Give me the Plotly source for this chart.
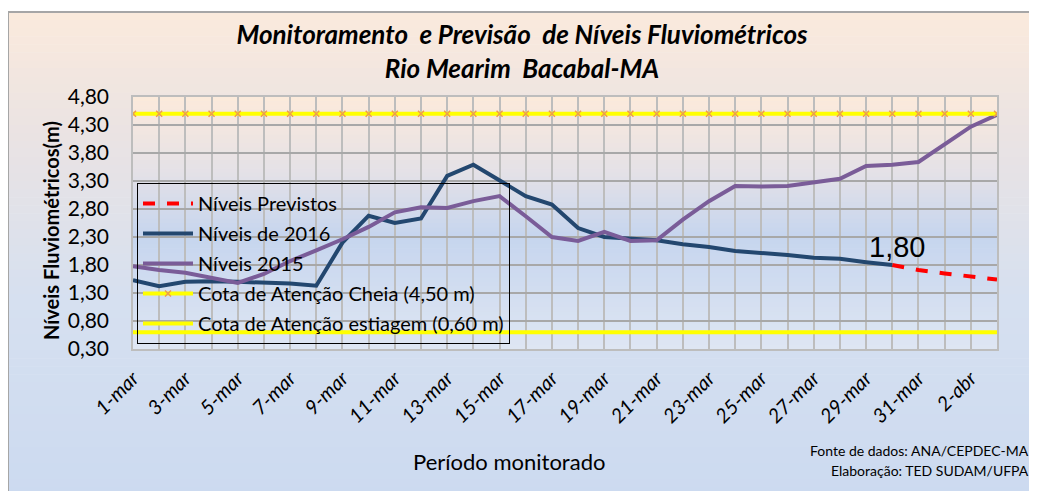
import plotly.graph_objects as go

dias = [
    "1-mar", "2-mar", "3-mar", "4-mar", "5-mar", "6-mar", "7-mar", "8-mar",
    "9-mar", "10-mar", "11-mar", "12-mar", "13-mar", "14-mar", "15-mar",
    "16-mar", "17-mar", "18-mar", "19-mar", "20-mar", "21-mar", "22-mar",
    "23-mar", "24-mar", "25-mar", "26-mar", "27-mar", "28-mar", "29-mar",
    "30-mar", "31-mar", "1-abr", "2-abr", "3-abr",
]

niveis_2016 = [
    1.53, 1.42, 1.50, 1.51, 1.50, 1.49, 1.47, 1.43, 2.20, 2.68, 2.55, 2.63,
    3.39, 3.59, 3.30, 3.03, 2.88, 2.46, 2.30, 2.27, 2.24, 2.17, 2.12, 2.05,
    2.02, 1.98, 1.93, 1.91, 1.85, 1.80,
]

niveis_2015 = [
    1.78, 1.71, 1.66, 1.57, 1.48, 1.64, 1.87, 2.06, 2.26, 2.48, 2.74, 2.83,
    2.82, 2.94, 3.03, 2.67, 2.30, 2.23, 2.39, 2.23, 2.24, 2.61, 2.94, 3.21,
    3.20, 3.21, 3.28, 3.34, 3.57, 3.59, 3.64, 3.95, 4.27, 4.48,
]

dias_previstos = ["30-mar", "31-mar", "1-abr", "2-abr", "3-abr"]
niveis_previstos = [1.80, 1.71, 1.65, 1.59, 1.54]

cota_cheia = 4.50
cota_estiagem = 0.60

y_ticks = [0.30, 0.80, 1.30, 1.80, 2.30, 2.80, 3.30, 3.80, 4.30, 4.80]

FONT = "Lato"
OFF = 8  # page body margin
W, H = 1037 - OFF, 491 - OFF
# plot area, in screen pixels
PL, PR, PT, PB = 133, 997, 97, 349


def px_x(x):
    return (x - PL) / (PR - PL)


def px_y(y):
    return (PB - y) / (PB - PT)


def hex_rgb(c):
    return tuple(int(c[i:i + 2], 16) for i in (1, 3, 5))


def grad_color(stops, t):
    for (t0, c0), (t1, c1) in zip(stops, stops[1:]):
        if t0 <= t <= t1:
            f = (t - t0) / (t1 - t0) if t1 > t0 else 0
            a, b = hex_rgb(c0), hex_rgb(c1)
            r = [round(a[k] + (b[k] - a[k]) * f) for k in range(3)]
            return f"rgb({r[0]},{r[1]},{r[2]})"
    return stops[-1][1]


def gradient(x0, x1, y0, y1, stops, n=60):
    # vertical gradient from screen y0 (top) to y1 (bottom)
    shapes = []
    h = (y1 - y0) / n
    for k in range(n):
        top = y0 + k * h
        shapes.append(dict(
            type="rect", xref="paper", yref="paper", layer="below",
            x0=px_x(x0), x1=px_x(x1), y0=px_y(top + h + 0.6), y1=px_y(top),
            fillcolor=grad_color(stops, (k + 0.5) / n), line_width=0,
        ))
    return shapes


outer_stops = [(0, "#FBEADC"), (0.25, "#EAE3E3"), (0.6, "#D6E0F0"), (1, "#CCDAF0")]
plot_stops = [(0, "#FCEADB"), (0.3, "#E4E1E7"), (0.55, "#C6D5EE"), (1, "#DEE6F3")]

shapes = gradient(8, 1040, 12, 495, outer_stops) + gradient(PL, PR, PT, PB, plot_stops)
shapes.append(dict(
    type="rect", xref="paper", yref="paper", layer="below",
    x0=px_x(8), x1=px_x(1050), y0=px_y(500), y1=px_y(12),
    line=dict(color="#A6A6A6", width=2), fillcolor="rgba(0,0,0,0)",
))

fig = go.Figure()

fig.add_trace(go.Scatter(
    x=dias_previstos, y=niveis_previstos, name="Níveis Previstos", mode="lines",
    line=dict(color="#FF0000", width=4, dash="dash"), legendgroup="a",
))
fig.add_trace(go.Scatter(
    x=dias[:len(niveis_2016)], y=niveis_2016, name="Níveis de 2016", mode="lines",
    line=dict(color="#23476F", width=4), legendgroup="b",
))
fig.add_trace(go.Scatter(
    x=dias, y=niveis_2015, name="Níveis 2015", mode="lines",
    line=dict(color="#7A5C98", width=4), legendgroup="c",
))
fig.add_trace(go.Scatter(
    x=dias, y=[cota_cheia] * len(dias), name="Cota de Atenção Cheia (4,50 m)",
    mode="lines+markers", line=dict(color="#FFFF00", width=4),
    marker=dict(symbol="x-thin-open", size=6, color="#EE9A50",
                line=dict(color="#EE9A50", width=1.5)),
    legendgroup="d",
))
fig.add_trace(go.Scatter(
    x=dias, y=[cota_estiagem] * len(dias), name="Cota de Atenção estiagem (0,60 m)",
    mode="lines", line=dict(color="#FFFF00", width=4), legendgroup="e",
))

fig.add_annotation(
    x=dias_previstos[0], y=niveis_previstos[0], text="1,80", showarrow=False,
    yanchor="bottom", xshift=5, yshift=0,
    font=dict(family="Liberation Sans", size=29, color="#000000"),
)
fig.add_annotation(
    xref="paper", yref="paper", x=px_x(37), y=px_y(231), textangle=-90,
    text="<b>Níveis Fluviométricos(m)</b>", showarrow=False,
    font=dict(family=FONT, size=20, color="#000000"),
)
fig.add_annotation(
    xref="paper", yref="paper", x=px_x(509), y=px_y(477), text="Período monitorado",
    showarrow=False, font=dict(family=FONT, size=22, color="#000000"),
)
fig.add_annotation(
    xref="paper", yref="paper", x=px_x(1031), y=px_y(461), xanchor="right",
    text="Fonte de dados: ANA/CEPDEC-MA", showarrow=False,
    font=dict(family=FONT, size=14, color="#000000"),
)
fig.add_annotation(
    xref="paper", yref="paper", x=px_x(1031), y=px_y(481), xanchor="right",
    text="Elaboração: TED SUDAM/UFPA", showarrow=False,
    font=dict(family=FONT, size=14, color="#000000"),
)

fig.update_layout(
    width=W, height=H,
    margin=dict(l=PL - OFF, r=W - (PR - OFF), t=PT - OFF, b=H - (PB - OFF)),
    paper_bgcolor="white", plot_bgcolor="rgba(0,0,0,0)",
    shapes=shapes,
    title=dict(
        text="Monitoramento  e Previsão  de Níveis Fluviométricos<br>Rio Mearim  Bacabal-MA",
        x=(522 - OFF) / W, xref="container", y=1 - (44 - OFF) / H, yref="container",
        yanchor="middle",
        font=dict(family=FONT, size=26, color="#000000", weight="bold", style="italic"),
    ),
    legend=dict(
        x=px_x(137), y=px_y(183), xanchor="left", yanchor="top",
        bgcolor="rgba(0,0,0,0)", bordercolor="#000000", borderwidth=1,
        font=dict(family=FONT, size=20, color="#000000"),
        traceorder="grouped", tracegroupgap=1, itemwidth=50,
    ),
    showlegend=True,
)

fig.update_xaxes(
    type="category", categoryorder="array", categoryarray=dias,
    range=[0, len(dias) - 1],
    tickmode="array", tickvals=dias,
    ticktext=[d if i % 2 == 0 else "" for i, d in enumerate(dias)],
    tickangle=-45, ticklabelstandoff=8,
    tickfont=dict(family=FONT, size=20, color="#000000", style="italic"),
    showgrid=True, gridcolor="#BDBDBD", gridwidth=1.5,
    showline=True, mirror=True, linecolor="#BDBDBD", linewidth=1.5,
    ticks="", zeroline=False,
)
fig.update_yaxes(
    range=[y_ticks[0], y_ticks[-1]], tickmode="array", tickvals=y_ticks,
    ticktext=[f"{v:.2f}".replace(".", ",") for v in y_ticks],
    ticklabelstandoff=18,
    tickfont=dict(family=FONT, size=21, color="#000000"),
    showgrid=True, gridcolor="#A8A8A8", gridwidth=1.5,
    showline=True, mirror=True, linecolor="#BDBDBD", linewidth=1.5,
    ticks="", zeroline=False,
)

fig.write_html("out.html")
